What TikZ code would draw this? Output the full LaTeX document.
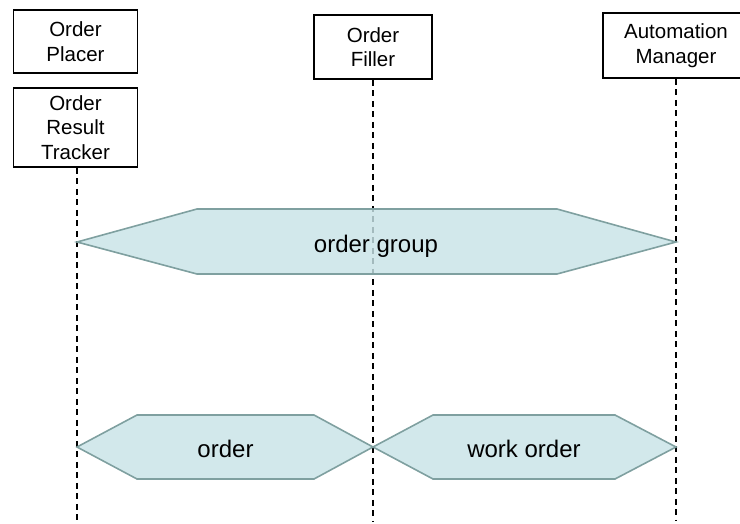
\documentclass[tikz,border=0pt]{standalone}
\usepackage{fontspec}
\setmainfont{Liberation Sans}
\definecolor{hexfill}{RGB}{200,227,231}
\definecolor{hexline}{RGB}{127,160,160}
\tikzset{
  actor/.style={draw=black, line width=1.7pt, fill=white, align=center,
    font=\fontsize{20.5}{24.5}\selectfont, inner sep=0pt},
  lifeline/.style={draw=black, line width=1.4pt, dash pattern=on 6pt off 4.5pt},
  hexa/.style={draw=hexline, line width=1.6pt, fill=hexfill, fill opacity=0.82, line join=miter},
  hexlabel/.style={font=\fontsize{24}{28}\selectfont, anchor=base, inner sep=0pt}
}
\begin{document}
\begin{tikzpicture}[x=1pt,y=-1pt]
\useasboundingbox (0,0) rectangle (740,523);
% actors
\node[actor, minimum width=124pt, minimum height=63pt] (PL) at (75.5,41.5) {Order\\Placer};
\node[actor, minimum width=124pt, minimum height=79pt] (RT) at (75.5,127.5) {Order\\Result\\Tracker};
\node[actor, minimum width=118pt, minimum height=64pt] (OF) at (373,47) {Order\\Filler};
\node[actor, minimum width=146pt, minimum height=65pt] (AM) at (676,45.5) {Automation\\Manager};
% lifeline ends
\coordinate (RTend) at (77,521);
\coordinate (OFend) at (373,521);
\coordinate (AMend) at (676,521);
\draw[lifeline] (RT.south -| RTend) -- (RTend);
\draw[lifeline] (OF.south) -- (OFend);
\draw[lifeline] (AM.south) -- (AMend);
% hexagons
\draw[hexa] (77,242) -- (197,209) -- (557,209) -- (676,242) -- (557,274) -- (197,274) -- cycle;
\draw[hexa] (77,447) -- (137,415) -- (314,415) -- (373,447) -- (314,479) -- (137,479) -- cycle;
\draw[hexa] (373,447) -- (433,415) -- (615,415) -- (676,447) -- (615,479) -- (433,479) -- cycle;
% labels
\node[hexlabel] (lgroup) at (376,252) {order group};
\node[hexlabel] (lorder) at (225.5,457) {order};
\node[hexlabel] (lwork) at (524,457) {work order};
\end{tikzpicture}
\end{document}
